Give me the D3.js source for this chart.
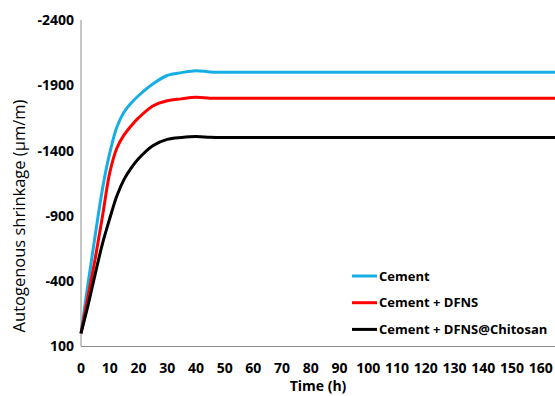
<!DOCTYPE html>
<html>
<head>
<meta charset="utf-8">
<script src="https://cdn.jsdelivr.net/npm/d3@7"></script>
<style>
	body { margin: 0; background: #fff; }
	text { font-family: "Open Sans", sans-serif; }
</style>
</head>
<body>
<svg id="chart" width="555" height="396"></svg>
<script>
// hours
const times = [0, 2.5, 5, 7.5, 10, 12.5, 15, 17.5, 20, 25, 30, 35, 40, 45, 50, 60, 80, 100, 120, 140, 165];
// autogenous shrinkage (um/m)
const cement = [0, -390, -760, -1110, -1380, -1580, -1695, -1765, -1820, -1910, -1975, -1997, -2012, -2002, -2000, -2000, -2000, -2000, -2000, -2000, -2000];
const cementDfns = [0, -290, -580, -900, -1230, -1420, -1520, -1590, -1650, -1742, -1782, -1796, -1808, -1801, -1800, -1800, -1800, -1800, -1800, -1800, -1800];
const cementChitosan = [0, -220, -460, -690, -880, -1055, -1180, -1268, -1338, -1438, -1486, -1501, -1508, -1502, -1500, -1500, -1500, -1500, -1500, -1500, -1500];

const seriesNames = ['Cement', 'Cement + DFNS', 'Cement + DFNS@Chitosan'];
const seriesColors = ['#17aee6', '#ff0000', '#000000'];
const xTicks = d3.range(0, 161, 10);
const yTicks = [-2400, -1900, -1400, -900, -400, 100];

const svg = d3.select('#chart');

const x = d3.scaleLinear().domain([0, 165]).range([81, 555]);
const y = d3.scaleLinear().domain([100, -2400]).range([346.5, 20]);

// axes lines
svg.append('line')
	.attr('x1', x(0)).attr('x2', x(0))
	.attr('y1', y(-2400)).attr('y2', y(100))
	.attr('stroke', '#8c8c8c').attr('stroke-width', 1);
svg.append('line')
	.attr('x1', x(0)).attr('x2', x(165))
	.attr('y1', y(100)).attr('y2', y(100))
	.attr('stroke', '#8c8c8c').attr('stroke-width', 1);

// tick labels
svg.append('g').selectAll('text')
	.data(yTicks)
	.enter()
	.append('text')
		.attr('x', 74)
		.attr('y', d => y(d))
		.attr('dy', '0.35em')
		.attr('text-anchor', 'end')
		.attr('font-size', 14)
		.attr('font-weight', 'bold')
		.text(d => d);

svg.append('g').selectAll('text')
	.data(xTicks)
	.enter()
	.append('text')
		.attr('x', d => x(d))
		.attr('y', 368)
		.attr('dy', '0.35em')
		.attr('text-anchor', 'middle')
		.attr('font-size', 14)
		.attr('font-weight', 'bold')
		.text(d => d);

// axis titles
svg.append('text')
	.attr('x', 318).attr('y', 386)
	.attr('dy', '0.35em')
	.attr('text-anchor', 'middle')
	.attr('font-size', 14)
	.attr('font-weight', 'bold')
	.text('Time (h)');

svg.append('text')
	.attr('transform', 'translate(19,216) rotate(-90)')
	.attr('dy', '0.35em')
	.attr('text-anchor', 'middle')
	.attr('font-size', 16.5)
	.text('Autogenous shrinkage (μm/m)');

// lines
const allSeries = [cement, cementDfns, cementChitosan];
const line = d3.line()
	.x((d, i) => x(times[i]))
	.y(d => y(d))
	.curve(d3.curveCatmullRom.alpha(0.5));

svg.append('g').selectAll('path')
	.data(allSeries)
	.enter()
	.append('path')
		.attr('d', line)
		.attr('fill', 'none')
		.attr('stroke', (d, i) => seriesColors[i])
		.attr('stroke-width', 3);

// legend
const legend = svg.append('g').attr('transform', 'translate(352,276)');
const rows = legend.selectAll('g')
	.data(seriesNames)
	.enter()
	.append('g')
		.attr('transform', (d, i) => `translate(0,${i * 26.7})`);
rows.append('line')
	.attr('x1', 0).attr('x2', 25)
	.attr('stroke', (d, i) => seriesColors[i])
	.attr('stroke-width', 3);
rows.append('text')
	.attr('x', 27)
	.attr('dy', '0.35em')
	.attr('font-size', 13)
	.attr('font-weight', 'bold')
	.text(d => d);
</script>
</body>
</html>
